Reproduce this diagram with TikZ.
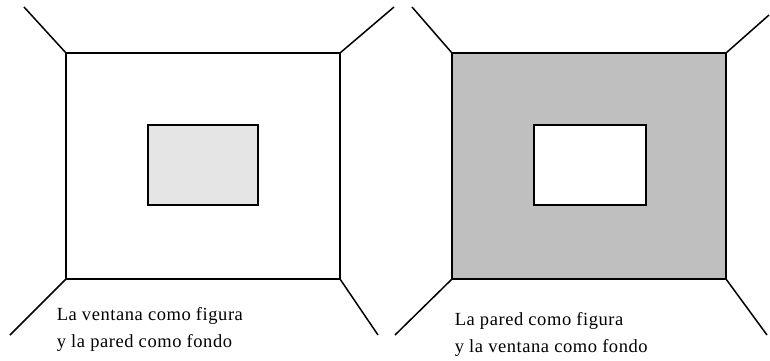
\documentclass[tikz,border=0pt]{standalone}
\usepackage{fontspec}
\setmainfont{Liberation Serif}[LetterSpace=3]
\usetikzlibrary{positioning,calc}

\begin{document}
\begin{tikzpicture}[x=1pt,y=-1pt,line width=1.5pt,
	wall/.style={draw=black},
	caption/.style={anchor=base west,inner sep=0pt,font=\fontsize{18.5}{22}\selectfont}]
			\useasboundingbox (0,0) rectangle (770,360);
			\begin{scope}
				\coordinate (A1) at (66,53);
				\coordinate (B1) at (340,53);
				\coordinate (C1) at (340,279);
				\coordinate (D1) at (66,279);
				
				\draw[wall,fill=white] 		(A1) rectangle (C1);
				\draw[wall,fill=black!10] 	(148,125) rectangle (258,205);
				\draw (A1) -- (24,7);
				\draw (B1) -- (394,7);
				\draw (D1) -- (10,335);
				\draw (C1) -- (378,335);
				
				\node[caption] (t1) at (56,320) {La ventana como figura}; 
				\node[caption] (t2) at (56,347) {y la pared como fondo}; 
			\end{scope}
			\begin{scope}
				\coordinate (A2) at (452,53);
				\coordinate (B2) at (726,53);
				\coordinate (C2) at (726,279);
				\coordinate (D2) at (452,279);
				
				\draw[wall,fill=black!25] 	(A2) rectangle (C2);
				\draw[wall,fill=white] 		(534,125) rectangle (646,205);
				\draw (A2) -- (412,7);
				\draw (B2) -- (769,15);
				\draw (D2) -- (395,335);
				\draw (C2) -- (767,335);
				
				\node[caption] (t3) at (454,325) {La pared como figura}; 
				\node[caption] (t4) at (454,352) {y la ventana como fondo}; 
			\end{scope}
		\end{tikzpicture}
\end{document}
